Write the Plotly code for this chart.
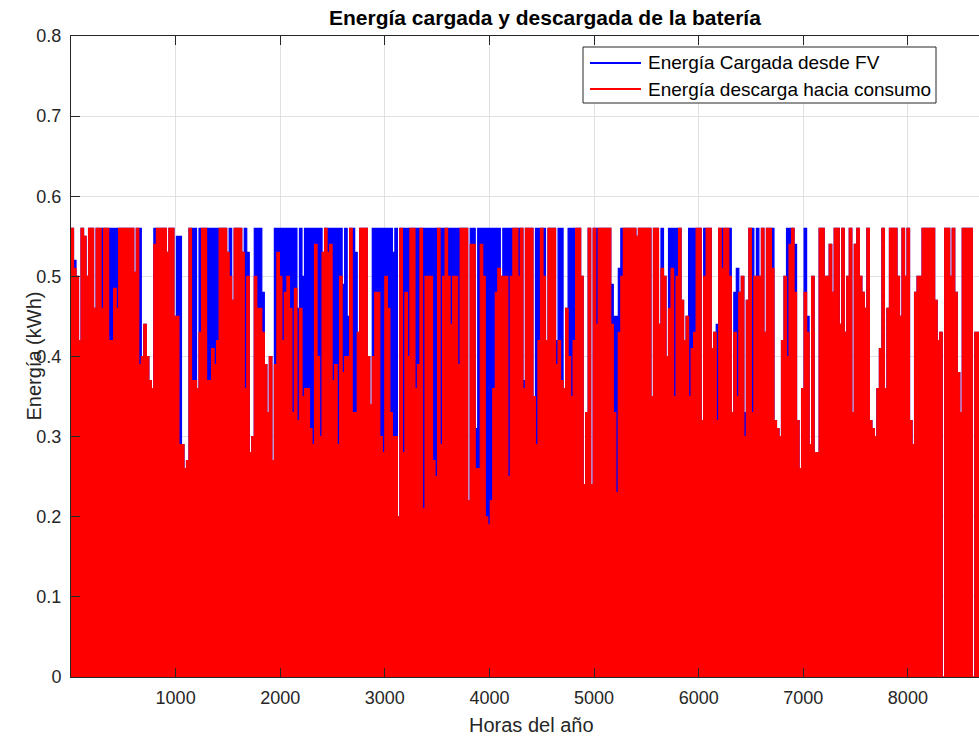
import numpy as np
import plotly.graph_objects as go

# Daily peak energy (kWh) over the year, one value per day
descarga_consumo = [
    .56, .51, .50, .42, .56, .55, .50, .56, .56, .46,
    .56, .56, .46, .56, .56, .42, .42, .485, .46, .56,
    .56, .56, .56, .56, .56, .505, .56, .39, .40, .44,
    .40, .37, .36, .54, .56, .56, .56, .56, .53, .56,
    .56, .45, .45, .29, .29, .26, .27, .56, .37, .37,
    .36, .43, .56, .56, .37, .37, .41, .39, .42, .56,
    .56, .56, .53, .50, .47, .56, .56, .56, .53, .36,
    .50, .28, .30, .50, .46, .46, .43, .39, .33, .40,
    .27, .39, .53, .50, .42, .48, .50, .46, .33, .485,
    .32, .46, .35, .36, .36, .31, .29, .54, .40, .30,
    .53, .56, .53, .54, .37, .39, .29, .50, .38, .40,
    .40, .56, .33, .33, .43, .56, .56, .56, .40, .34,
    .40, .48, .48, .30, .28, .50, .46, .33, .30, .30,
    .20, .56, .28, .48, .40, .56, .56, .36, .39, .56,
    .21, .50, .50, .50, .27, .25, .56, .29, .50, .56,
    .50, .44, .50, .50, .39, .56, .56, .56, .22, .54,
    .54, .26, .26, .54, .50, .20, .19, .22, .36, .48,
    .51, .50, .50, .50, .25, .50, .56, .56, .50, .56,
    .36, .56, .56, .56, .35, .29, .42, .56, .50, .42,
    .56, .56, .56, .39, .42, .37, .36, .46, .40, .35,
    .42, .56, .56, .50, .24, .33, .56, .24, .56, .44,
    .56, .56, .56, .56, .56, .44, .33, .23, .43, .50,
    .56, .56, .56, .56, .56, .55, .56, .56, .56, .56,
    .56, .35, .56, .56, .44, .51, .50, .40, .46, .51,
    .35, .50, .56, .47, .42, .45, .35, .41, .43, .56,
    .56, .32, .50, .56, .56, .41, .43, .32, .56, .51,
    .56, .56, .50, .33, .43, .35, .48, .50, .30, .47,
    .56, .33, .50, .50, .50, .56, .43, .56, .56, .51,
    .32, .31, .30, .42, .50, .40, .54, .56, .48, .32,
    .26, .36, .48, .43, .29, .50, .28, .28, .56, .56,
    .50, .50, .54, .48, .56, .56, .44, .56, .43, .50,
    .56, .33, .54, .56, .50, .48, .46, .56, .32, .31,
    .30, .36, .41, .56, .36, .46, .56, .56, .56, .50,
    .45, .56, .50, .56, .32, .29, .48, .50, .50, .56,
    .56, .56, .56, .56, .47, .42, .43, 0.0, .56, .56,
    .50, .56, .48, .38, .33, .56, .56, .56, .56, 0.0,
    .43, .43,
]

carga_fv = [
    .56, .52, .50, .42, .56, .55, .50, .56, .56, .46,
    .56, .56, .56, .56, .56, .56, .56, .56, .56, .56,
    .56, .56, .56, .56, .56, .505, .56, .56, .40, .44,
    .40, .37, .36, .56, .56, .56, .56, .56, .53, .56,
    .56, .45, .55, .55, .29, .26, .27, .56, .56, .56,
    .36, .56, .56, .56, .56, .56, .56, .56, .56, .56,
    .56, .56, .53, .56, .47, .56, .56, .56, .53, .56,
    .53, .28, .30, .56, .56, .56, .48, .39, .33, .40,
    .27, .56, .56, .56, .56, .56, .56, .56, .56, .56,
    .46, .56, .50, .56, .56, .56, .56, .56, .56, .56,
    .53, .56, .56, .56, .56, .56, .56, .56, .49, .56,
    .45, .56, .56, .53, .43, .56, .56, .56, .40, .34,
    .56, .56, .56, .56, .56, .56, .56, .56, .53, .56,
    .20, .56, .56, .56, .56, .56, .56, .56, .56, .56,
    .56, .56, .56, .56, .56, .56, .56, .56, .56, .56,
    .56, .56, .56, .56, .56, .56, .56, .56, .22, .56,
    .56, .31, .56, .56, .56, .56, .56, .56, .56, .56,
    .56, .50, .56, .56, .56, .56, .56, .56, .56, .56,
    .37, .56, .56, .56, .35, .56, .56, .56, .56, .42,
    .56, .56, .56, .42, .56, .56, .36, .46, .56, .56,
    .56, .56, .56, .50, .24, .33, .56, .24, .56, .56,
    .56, .56, .56, .56, .56, .49, .45, .45, .51, .56,
    .56, .56, .56, .56, .56, .55, .56, .56, .56, .56,
    .56, .35, .56, .56, .44, .56, .50, .40, .56, .56,
    .56, .56, .56, .47, .42, .45, .56, .56, .56, .56,
    .56, .32, .56, .56, .56, .41, .43, .44, .56, .56,
    .56, .56, .56, .33, .48, .51, .48, .50, .33, .47,
    .56, .56, .50, .56, .50, .56, .43, .56, .56, .56,
    .32, .31, .30, .42, .50, .56, .56, .56, .54, .32,
    .26, .36, .56, .45, .29, .50, .28, .28, .56, .56,
    .50, .50, .54, .48, .56, .56, .44, .56, .43, .50,
    .56, .33, .54, .56, .50, .48, .46, .56, .32, .31,
    .30, .36, .41, .56, .36, .46, .56, .56, .56, .50,
    .45, .56, .50, .56, .32, .29, .48, .50, .50, .56,
    .56, .56, .56, .56, .47, .42, .43, 0.0, .56, .56,
    .50, .56, .48, .38, .33, .56, .56, .56, .56, 0.0,
    .43, .43,
]

x_ticks = [1000, 2000, 3000, 4000, 5000, 6000, 7000, 8000]
y_ticks = [0, 0.1, 0.2, 0.3, 0.4, 0.5, 0.6, 0.7, 0.8]
y_tick_text = ["0", "0.1", "0.2", "0.3", "0.4", "0.5", "0.6", "0.7", "0.8"]

nombre_carga = "Energía Cargada desde FV"
nombre_descarga = "Energía descarga hacia consumo"

AZUL = "#0000ff"
ROJO = "#ff0000"
EJE = "#262626"
FONT = "Liberation Sans, Arial, Helvetica, sans-serif"

# each day spans 24 hours on the hour axis
n_dias = len(descarga_consumo)
horas = np.arange(n_dias + 1) * 24


def escalon(valores):
    return list(valores) + [valores[-1]]


fig = go.Figure()
for nombre, serie, color in [(nombre_carga, carga_fv, AZUL),
                             (nombre_descarga, descarga_consumo, ROJO)]:
    fig.add_trace(go.Scatter(
        x=horas, y=escalon(serie), name=nombre, mode="lines",
        line=dict(color=color, width=1.2, shape="hv"),
        fill="tozeroy", fillcolor=color, showlegend=False,
    ))

fig.update_layout(
    width=979, height=738,
    margin=dict(l=71, r=0, t=36, b=61),
    paper_bgcolor="white", plot_bgcolor="white",
    font=dict(family=FONT, size=18, color=EJE),
)

fig.update_xaxes(
    range=[0, 8680], tickvals=x_ticks, ticks="inside", ticklen=9,
    tickcolor=EJE, showline=True, linecolor=EJE, linewidth=1,
    mirror="ticks", showgrid=True, gridcolor="#e1e1e1", gridwidth=1,
    zeroline=False, tickfont=dict(size=18, color=EJE), ticklabelstandoff=4,
)
fig.update_yaxes(
    range=[0, 0.8], tickvals=y_ticks, ticktext=y_tick_text, ticks="inside",
    ticklen=9, tickcolor=EJE, showline=True, linecolor=EJE, linewidth=1,
    showgrid=True, gridcolor="#e1e1e1", gridwidth=1, zeroline=False,
    tickfont=dict(size=18, color=EJE), ticklabelstandoff=5,
)

# title and axis labels
fig.add_annotation(text="<b>Energía cargada y descargada de la batería</b>",
                   x=4530, xref="x", y=1, yref="paper", yanchor="bottom",
                   yshift=5, showarrow=False, font=dict(size=21, color="black"))
fig.add_annotation(text="Horas del año", x=4400, xref="x", y=0, yref="paper",
                   yanchor="middle", yshift=-48, showarrow=False,
                   font=dict(size=20, color=EJE))
fig.add_annotation(text="Energía (kWh)", x=0, xref="paper", y=0.5,
                   yref="paper", xshift=-51, textangle=-90, showarrow=False,
                   font=dict(size=20, color=EJE))

# legend box with line samples
def px(v):
    return (v - 71) / 908


def py(v):
    return (677 - v) / 641


fig.add_shape(type="rect", xref="paper", yref="paper",
              x0=px(583), x1=px(936), y0=py(103), y1=py(47),
              line=dict(color=EJE, width=1), fillcolor="white", layer="above")
for fila, (nombre, color) in enumerate([(nombre_carga, AZUL),
                                        (nombre_descarga, ROJO)]):
    yy = py(63 + 26 * fila)
    fig.add_shape(type="line", xref="paper", yref="paper",
                  x0=px(590), x1=px(641), y0=yy, y1=yy,
                  line=dict(color=color, width=2), layer="above")
    fig.add_annotation(text=nombre, x=px(646), xref="paper", y=yy,
                       yref="paper", xanchor="left", yanchor="middle",
                       showarrow=False, font=dict(size=19, color="black"))

fig.write_html("out.html")
